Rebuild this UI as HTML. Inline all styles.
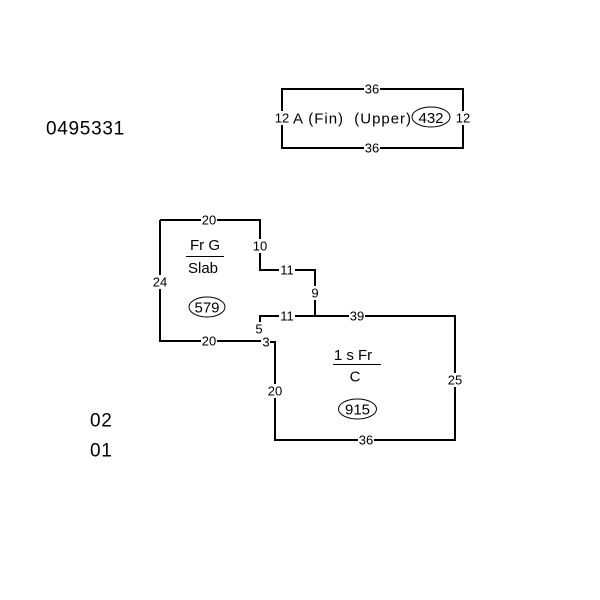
<!DOCTYPE html>
<html><head><meta charset="utf-8"><style>
html,body{margin:0;padding:0;background:#fff;}
svg{display:block;}
text{font-family:"Liberation Sans",Arial,sans-serif;fill:#000;}
.l{font-size:13px;text-anchor:middle;dominant-baseline:central;}
</style></head><body>
<svg width="600" height="600" viewBox="0 0 600 600" xmlns="http://www.w3.org/2000/svg">
<rect x="0" y="0" width="600" height="600" fill="#fff"/>
<g fill="none" stroke="#000" stroke-width="2">
<rect x="282" y="89" width="181" height="59"/>
<path d="M160,220 H260 V270 H315 V316"/>
<path d="M160,220 V341 H264"/>
<path d="M260,322 V316 H455 V440 H275 V342 H269"/>
</g>
<g fill="#fff">
<rect x="364" y="83" width="16" height="12"/>
<rect x="364" y="142" width="16" height="12"/>
<rect x="275" y="111" width="14" height="14"/>
<rect x="456" y="111" width="14" height="14"/>
<rect x="201" y="214" width="16" height="12"/>
<rect x="253" y="239" width="15" height="14"/>
<rect x="279" y="264" width="16" height="12"/>
<rect x="309" y="286" width="12" height="14"/>
<rect x="279" y="310" width="16" height="12"/>
<rect x="349" y="310" width="16" height="12"/>
<rect x="254" y="323" width="10" height="12"/>
<rect x="261" y="336" width="9" height="12"/>
<rect x="201" y="335" width="16" height="12"/>
<rect x="153" y="275" width="15" height="14"/>
<rect x="268" y="384" width="15" height="14"/>
<rect x="448" y="373" width="15" height="14"/>
<rect x="358" y="434" width="16" height="12"/>
</g>
<text class="l" x="372" y="89">36</text>
<text class="l" x="372" y="148">36</text>
<text class="l" x="282" y="118">12</text>
<text class="l" x="463" y="118">12</text>
<text class="l" x="209" y="220">20</text>
<text class="l" x="260" y="246">10</text>
<text class="l" x="287" y="270">11</text>
<text class="l" x="315" y="293">9</text>
<text class="l" x="287" y="316">11</text>
<text class="l" x="357" y="316">39</text>
<text class="l" x="259" y="329">5</text>
<text class="l" x="266" y="342">3</text>
<text class="l" x="209" y="341">20</text>
<text class="l" x="160" y="282">24</text>
<text class="l" x="275" y="391">20</text>
<text class="l" x="455" y="380">25</text>
<text class="l" x="366" y="440">36</text>

<text x="46" y="134.5" font-size="19" letter-spacing="0.7">0495331</text>
<text x="90" y="426.5" font-size="19" letter-spacing="0.7">02</text>
<text x="90" y="456.5" font-size="19" letter-spacing="0.7">01</text>

<text x="293" y="123.5" font-size="15" xml:space="preserve" textLength="118" lengthAdjust="spacing">A (Fin)  (Upper)</text>
<ellipse cx="431" cy="117" rx="19" ry="10" fill="none" stroke="#000" stroke-width="1"/>
<text x="431" y="123" font-size="15" text-anchor="middle">432</text>

<text x="205" y="250" font-size="15" text-anchor="middle">Fr G</text>
<line x1="186" y1="256.5" x2="224" y2="256.5" stroke="#000" stroke-width="1"/>
<text x="203" y="273" font-size="15" text-anchor="middle">Slab</text>
<ellipse cx="207" cy="307" rx="18" ry="10" fill="none" stroke="#000" stroke-width="1"/>
<text x="207" y="312.5" font-size="15" text-anchor="middle">579</text>

<text x="353" y="360" font-size="15" text-anchor="middle" xml:space="preserve">1 s Fr</text>
<line x1="333" y1="364.5" x2="381" y2="364.5" stroke="#000" stroke-width="1"/>
<text x="355" y="381.5" font-size="15" text-anchor="middle">C</text>
<ellipse cx="357.5" cy="409" rx="19" ry="10" fill="none" stroke="#000" stroke-width="1"/>
<text x="357.5" y="414.5" font-size="15" text-anchor="middle">915</text>
</svg>
</body></html>
